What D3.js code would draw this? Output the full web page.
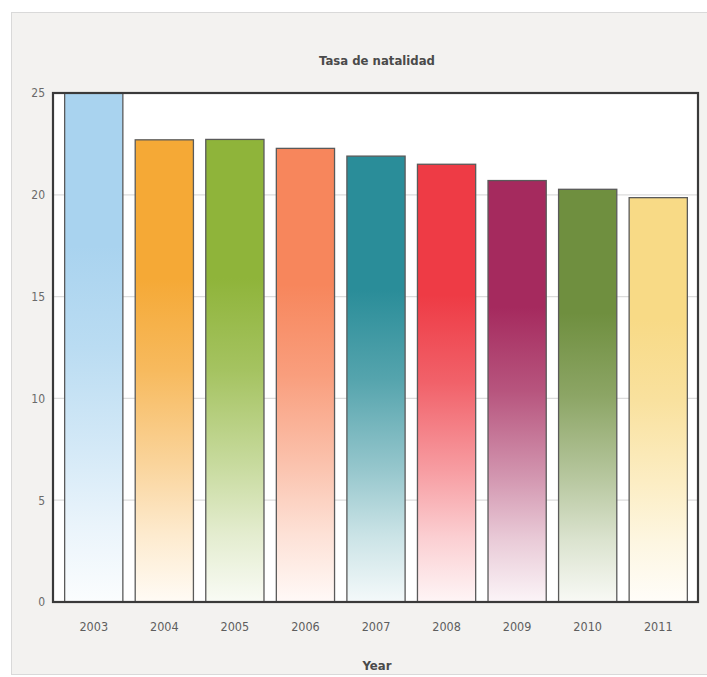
<!DOCTYPE html>
<html>
<head>
<meta charset="utf-8">
<script src="https://cdn.jsdelivr.net/npm/d3@7"></script>
<style>
  html, body { margin: 0; padding: 0; background: #ffffff; }
  svg { display: block; }
  text { font-family: "Liberation Sans Narrow", "DejaVu Sans Condensed", "Open Sans", sans-serif; }
</style>
</head>
<body>
<svg id="chart" width="707" height="677"></svg>
<script>
// Birth rate per year
const years = ["2003", "2004", "2005", "2006", "2007", "2008", "2009", "2010", "2011"];
const rates = [25, 22.7, 22.72, 22.28, 21.9, 21.5, 20.7, 20.27, 19.86];
const barColors = ["#a9d3ef", "#f5a936", "#8fb43a", "#f7865c", "#2a8d99", "#ee3b45", "#a52a5e", "#6f8f3f", "#f8da86"];
const yTicks = [0, 5, 10, 15, 20, 25];
const chartTitle = "Tasa de natalidad";
const xTitle = "Year";

const svg = d3.select("#chart");

// card behind the chart
svg.append("rect")
  .attr("x", 11.5).attr("y", 12.5)
  .attr("width", 700).attr("height", 662)
  .attr("fill", "#f3f2f0")
  .attr("stroke", "#d9d9d9");

const plot = { left: 53, right: 698, top: 93, bottom: 602 };

const x = d3.scaleBand()
  .domain(years)
  .range([59, 693])
  .paddingInner(0.175)
  .paddingOuter(0.08);

const y = d3.scaleLinear()
  .domain([0, 25])
  .range([plot.bottom, plot.top]);

// white plotting area
svg.append("rect")
  .attr("x", plot.left).attr("y", plot.top)
  .attr("width", plot.right - plot.left)
  .attr("height", plot.bottom - plot.top)
  .attr("fill", "#ffffff");

// horizontal grid
svg.append("g")
  .selectAll("line")
  .data(yTicks.filter(d => d > 0 && d < 25))
  .join("line")
  .attr("x1", plot.left).attr("x2", plot.right)
  .attr("y1", d => y(d)).attr("y2", d => y(d))
  .attr("stroke", "#dcdcdc")
  .attr("stroke-width", 1.2);

// vertical fade for each bar: solid at the top, easing to near white at the base
const defs = svg.append("defs");
const fadeStops = [[0, 0], [0.3, 0], [0.5, 0.2], [0.7, 0.5], [0.85, 0.75], [1, 0.95]];
barColors.forEach((c, i) => {
  const g = defs.append("linearGradient")
    .attr("id", "fade" + i)
    .attr("x1", 0).attr("y1", 0).attr("x2", 0).attr("y2", 1);
  const mix = d3.interpolateRgb(c, "#ffffff");
  fadeStops.forEach(([o, t]) => {
    g.append("stop").attr("offset", o).attr("stop-color", mix(t));
  });
});

svg.append("g")
  .selectAll("rect")
  .data(years.map((yr, i) => ({ yr, v: rates[i], i })))
  .join("rect")
  .attr("x", d => x(d.yr))
  .attr("y", d => y(d.v))
  .attr("width", x.bandwidth())
  .attr("height", d => y(0) - y(d.v))
  .attr("fill", d => `url(#fade${d.i})`)
  .attr("stroke", "#5a5a5a")
  .attr("stroke-width", 1.3);

// frame around the plot
svg.append("rect")
  .attr("x", plot.left).attr("y", plot.top)
  .attr("width", plot.right - plot.left)
  .attr("height", plot.bottom - plot.top)
  .attr("fill", "none")
  .attr("stroke", "#3a3a3a")
  .attr("stroke-width", 2.2);

// y axis labels
const yAxis = d3.axisLeft(y).tickValues(yTicks).tickSize(0).tickPadding(8);
const ya = svg.append("g")
  .attr("transform", `translate(${plot.left},0)`)
  .call(yAxis);
ya.select(".domain").remove();
ya.selectAll("text")
  .attr("font-size", 12)
  .attr("fill", "#6a6a6a")
  .style("font-family", "'Liberation Sans Narrow', 'DejaVu Sans Condensed', sans-serif");

// x axis labels
const xAxis = d3.axisBottom(x).tickSize(0).tickPadding(20);
const xa = svg.append("g")
  .attr("transform", `translate(0,${plot.bottom})`)
  .call(xAxis);
xa.select(".domain").remove();
xa.selectAll("text")
  .attr("font-size", 12.5)
  .attr("fill", "#5e5e5e")
  .style("font-family", "'Liberation Sans Narrow', 'DejaVu Sans Condensed', sans-serif");

// titles
svg.append("text")
  .attr("x", 377).attr("y", 65)
  .attr("text-anchor", "middle")
  .attr("font-size", 13)
  .attr("font-weight", "bold")
  .attr("fill", "#4a4a4a")
  .text(chartTitle);

svg.append("text")
  .attr("x", 377).attr("y", 670)
  .attr("text-anchor", "middle")
  .attr("font-size", 13)
  .attr("font-weight", "bold")
  .attr("fill", "#4a4a4a")
  .text(xTitle);
</script>
</body>
</html>
